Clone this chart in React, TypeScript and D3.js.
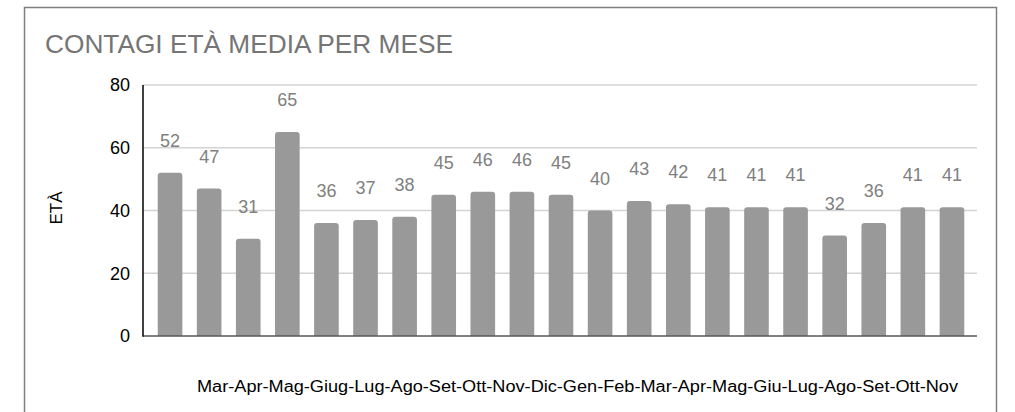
import React, { useEffect, useRef } from "react";
import * as d3 from "d3";

const months = [
  "Mar", "Apr", "Mag", "Giug", "Lug", "Ago", "Set", "Ott", "Nov", "Dic", "Gen",
  "Feb", "Mar", "Apr", "Mag", "Giu", "Lug", "Ago", "Set", "Ott", "Nov",
];
const ages = [52, 47, 31, 65, 36, 37, 38, 45, 46, 46, 45, 40, 43, 42, 41, 41, 41, 32, 36, 41, 41];
const yTicks = [0, 20, 40, 60, 80];

const W = 1015;
const H = 412;

const App: React.FC = () => {
  const ref = useRef<SVGSVGElement | null>(null);

  useEffect(() => {
    if (!ref.current) return;
    const svg = d3.select(ref.current);
    svg.selectAll("*").remove();

    const font = "'Liberation Sans', Arial, sans-serif";
    const left = 143;
    const right = 977;
    const y0 = 336;
    const y1 = 85;

    // frame
    svg
      .append("rect")
      .attr("x", 24.5)
      .attr("y", 7.5)
      .attr("width", 972)
      .attr("height", 420)
      .attr("fill", "#fff")
      .attr("stroke", "#7f7f7f")
      .attr("stroke-width", 1.5);

    svg
      .append("text")
      .attr("x", 45)
      .attr("y", 53)
      .attr("font-family", font)
      .attr("font-size", 26)
      .attr("fill", "#757575")
      .attr("textLength", 408)
      .attr("lengthAdjust", "spacingAndGlyphs")
      .text("CONTAGI ETÀ MEDIA PER MESE");

    const x = d3
      .scaleBand<number>()
      .domain(d3.range(ages.length))
      .range([150.5, 971.5])
      .paddingInner(0.37)
      .paddingOuter(0.185);

    const y = d3.scaleLinear().domain([0, 80]).range([y0, y1]);

    // gridlines
    svg
      .append("g")
      .selectAll("line")
      .data(yTicks.filter((t) => t > 0))
      .enter()
      .append("line")
      .attr("x1", left)
      .attr("x2", right)
      .attr("y1", (d) => y(d))
      .attr("y2", (d) => y(d))
      .attr("stroke", "#d4d4d4")
      .attr("stroke-width", 1.5);

    // tick labels
    svg
      .append("g")
      .selectAll("text")
      .data(yTicks)
      .enter()
      .append("text")
      .attr("x", 130)
      .attr("y", (d) => y(d))
      .attr("dy", "0.36em")
      .attr("text-anchor", "end")
      .attr("font-family", font)
      .attr("font-size", 18)
      .attr("fill", "#000")
      .text((d) => d);

    // bars with rounded tops
    const r = 3;
    svg
      .append("g")
      .selectAll("path")
      .data(ages)
      .enter()
      .append("path")
      .attr("fill", "#999999")
      .attr("d", (d, i) => {
        const bx = x(i)!;
        const bw = x.bandwidth();
        const top = y(d);
        return `M${bx},${y0} V${top + r} Q${bx},${top} ${bx + r},${top} H${bx + bw - r} Q${bx + bw},${top} ${bx + bw},${top + r} V${y0} Z`;
      });

    // value labels
    svg
      .append("g")
      .selectAll("text")
      .data(ages)
      .enter()
      .append("text")
      .attr("x", (d, i) => x(i)! + x.bandwidth() / 2)
      .attr("y", (d) => y(d) - 26)
      .attr("text-anchor", "middle")
      .attr("font-family", font)
      .attr("font-size", 18)
      .attr("fill", "#808080")
      .text((d) => d);

    // axes lines
    svg
      .append("line")
      .attr("x1", left)
      .attr("x2", right)
      .attr("y1", y0)
      .attr("y2", y0)
      .attr("stroke", "#595959")
      .attr("stroke-width", 1.5);
    svg
      .append("line")
      .attr("x1", left)
      .attr("x2", left)
      .attr("y1", y1)
      .attr("y2", y0 + 0.75)
      .attr("stroke", "#000")
      .attr("stroke-width", 1.5);

    // month labels run together
    svg
      .append("text")
      .attr("x", 197)
      .attr("y", 392)
      .attr("font-family", font)
      .attr("font-size", 16)
      .attr("fill", "#000")
      .attr("textLength", 761)
      .attr("lengthAdjust", "spacingAndGlyphs")
      .text(months.join("-"));

    svg
      .append("text")
      .attr("transform", `translate(62,208) rotate(-90)`)
      .attr("text-anchor", "middle")
      .attr("font-family", font)
      .attr("font-size", 17)
      .attr("fill", "#000")
      .text("ETÀ");
  }, []);

  return (
    <svg
      ref={ref}
      width={W}
      height={H}
      style={{ position: "absolute", left: 0, top: 0, background: "#fff" }}
    ></svg>
  );
};

export default App;
